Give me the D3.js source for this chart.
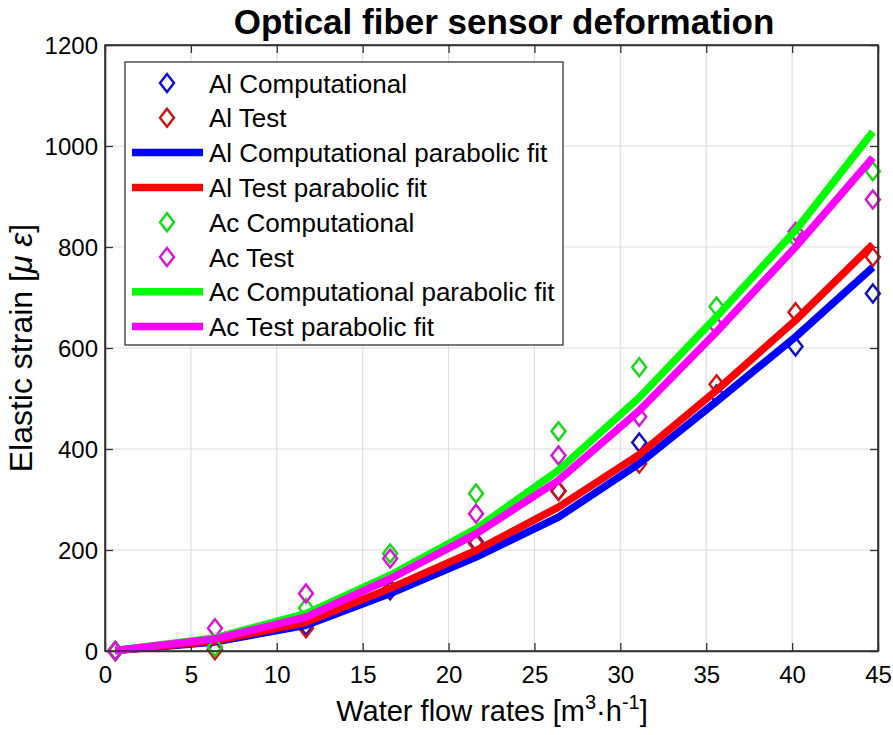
<!DOCTYPE html>
<html>
<head>
<meta charset="utf-8">
<script src="https://cdn.jsdelivr.net/npm/d3@7/dist/d3.min.js"></script>
<style>
body { margin: 0; background: #fff; }
text { font-family: "Liberation Sans", Arial, sans-serif; fill: #000; }
</style>
</head>
<body>
<svg id="chart" width="893" height="735"></svg>
<script>
// water flow rate at each measurement
var flow = [0.6, 6.4, 11.7, 16.6, 21.6, 26.4, 31.1, 35.6, 40.2, 44.7];

// measured / computed strain
var alComp = [0, 3, 50, 120, 216, 317, 413, 508, 603, 708];
var alTest = [0, 2, 45, 124, 213, 317, 371, 528, 671, 780];
var acComp = [0, 8, 85, 193, 312, 435, 562, 682, 817, 950];
var acTest = [0, 45, 114, 183, 272, 387, 464, 643, 830, 894];

// parabolic fits evaluated at the same flow rates
var alCompFit = [1, 18, 51, 114, 186, 265, 371, 494, 622, 760];
var alTestFit = [1, 20, 57, 124, 199, 285, 389, 516, 655, 805];
var acCompFit = [1, 26, 74, 150, 242, 358, 502, 662, 833, 1028];
var acTestFit = [1, 24, 67, 143, 232, 338, 476, 632, 800, 977];

var xTicks = [0, 5, 10, 15, 20, 25, 30, 35, 40, 45];
var yTicks = [0, 200, 400, 600, 800, 1000, 1200];

var legendNames = ["Al Computational", "Al Test", "Al Computational parabolic fit", "Al Test parabolic fit",
	"Ac Computational", "Ac Test", "Ac Computational parabolic fit", "Ac Test parabolic fit"];

var pLeft = 105, pRight = 878, pTop = 45, pBottom = 651;

var svg = d3.select("#chart");

var x = d3.scaleLinear().domain([0, 45]).range([pLeft, pRight]);
var y = d3.scaleLinear().domain([0, 1200]).range([pBottom, pTop]);

// grid
svg.append("g").selectAll("line").data(xTicks.slice(1, -1)).enter().append("line")
	.attr("x1", function(d){ return x(d) }).attr("x2", function(d){ return x(d) })
	.attr("y1", pTop).attr("y2", pBottom)
	.attr("stroke", "#dedede").attr("stroke-width", 1.2);
svg.append("g").selectAll("line").data(yTicks.slice(1, -1)).enter().append("line")
	.attr("y1", function(d){ return y(d) }).attr("y2", function(d){ return y(d) })
	.attr("x1", pLeft).attr("x2", pRight)
	.attr("stroke", "#dedede").attr("stroke-width", 1.2);

// axes, ticks inward on all sides
function styleAxis(g) {
	g.selectAll("path").attr("stroke", "#333").attr("stroke-width", 1.6);
	g.selectAll("line").attr("stroke", "#333").attr("stroke-width", 1.3);
	g.selectAll("text").attr("font-size", 24).attr("font-family", "Liberation Sans, Arial, sans-serif")
		.attr("fill", "#111");
}

var xAxis = svg.append("g").attr("transform", "translate(0," + pBottom + ")")
	.call(d3.axisBottom(x).tickValues(xTicks).tickFormat(d3.format("d"))
		.tickSizeInner(-8).tickSizeOuter(0).tickPadding(15));
styleAxis(xAxis);
var yAxis = svg.append("g").attr("transform", "translate(" + pLeft + ",0)")
	.call(d3.axisLeft(y).tickValues(yTicks).tickFormat(d3.format("d"))
		.tickSizeInner(-8).tickSizeOuter(0).tickPadding(7));
styleAxis(yAxis);
yAxis.selectAll("text").attr("dy", "0.36em");

var xTop = svg.append("g").attr("transform", "translate(0," + pTop + ")")
	.call(d3.axisTop(x).tickValues(xTicks).tickSizeInner(-8).tickSizeOuter(0).tickFormat(""));
styleAxis(xTop);
var yRight = svg.append("g").attr("transform", "translate(" + pRight + ",0)")
	.call(d3.axisRight(y).tickValues(yTicks).tickSizeInner(-8).tickSizeOuter(0).tickFormat(""));
styleAxis(yRight);

// series
var line = d3.line()
	.x(function(d, i){ return x(flow[i]) })
	.y(function(d){ return y(d) });

function diamond(cx, cy) {
	var w = 7, h = 9;
	return "M" + cx + "," + (cy - h) + "L" + (cx + w) + "," + cy + "L" + cx + "," + (cy + h) + "L" + (cx - w) + "," + cy + "Z";
}

function drawMarkers(vals, color) {
	svg.append("g").selectAll("path").data(vals).enter().append("path")
		.attr("d", function(d, i){ return diamond(x(flow[i]), y(d)) })
		.attr("fill", "none").attr("stroke", color).attr("stroke-width", 2.4);
}

function drawFit(vals, color) {
	svg.append("path").attr("d", line(vals))
		.attr("fill", "none").attr("stroke", color).attr("stroke-width", 7.5)
		.attr("stroke-linejoin", "round");
}

var series = [
	{ type: "m", vals: alComp, color: "#0a0ad0" },
	{ type: "m", vals: alTest, color: "#d41010" },
	{ type: "l", vals: alCompFit, color: "#0000ff" },
	{ type: "l", vals: alTestFit, color: "#ff0000" },
	{ type: "m", vals: acComp, color: "#10dc10" },
	{ type: "m", vals: acTest, color: "#dc10dc" },
	{ type: "l", vals: acCompFit, color: "#00ff00" },
	{ type: "l", vals: acTestFit, color: "#ff00ff" }
];

series.forEach(function(s) {
	if (s.type == "m") drawMarkers(s.vals, s.color);
	else drawFit(s.vals, s.color);
});

// plot box on top of everything
svg.append("rect").attr("x", pLeft).attr("y", pTop)
	.attr("width", pRight - pLeft).attr("height", pBottom - pTop)
	.attr("fill", "none").attr("stroke", "#333").attr("stroke-width", 1.6);

// legend
var lg = svg.append("g");
lg.append("rect").attr("x", 125).attr("y", 62).attr("width", 438).attr("height", 283)
	.attr("fill", "#fff").attr("stroke", "#333").attr("stroke-width", 1.3);

series.forEach(function(s, i) {
	var ly = 83 + i * 34.8;
	if (s.type == "m") {
		lg.append("path").attr("d", diamond(167, ly))
			.attr("fill", "none").attr("stroke", s.color).attr("stroke-width", 2.4);
	} else {
		lg.append("line").attr("x1", 132).attr("x2", 203).attr("y1", ly).attr("y2", ly)
			.attr("stroke", s.color).attr("stroke-width", 7.5);
	}
	lg.append("text")
		.attr("x", 209).attr("y", ly + 9.5)
		.attr("font-size", 26)
		.text(legendNames[i]);
});

// title
svg.append("text")
	.attr("x", 504).attr("y", 34)
	.attr("text-anchor", "middle").attr("font-size", 35).attr("font-weight", "bold")
	.text("Optical fiber sensor deformation");

// x label
var xl = svg.append("text")
	.attr("x", 492).attr("y", 721)
	.attr("text-anchor", "middle").attr("font-size", 29);
xl.append("tspan").text("Water flow rates [m");
xl.append("tspan").attr("dy", -12).attr("font-size", 20).text("3");
xl.append("tspan").attr("dy", 12).text("\u00b7h");
xl.append("tspan").attr("dy", -12).attr("font-size", 20).text("-1");
xl.append("tspan").attr("dy", 12).text("]");

// y label
var yl = svg.append("text")
	.attr("transform", "translate(32,348) rotate(-90)")
	.attr("text-anchor", "middle").attr("font-size", 32);
yl.append("tspan").text("Elastic strain [");
yl.append("tspan").attr("font-style", "italic").text("\u03bc \u03b5");
yl.append("tspan").text("]");
</script>
</body>
</html>
